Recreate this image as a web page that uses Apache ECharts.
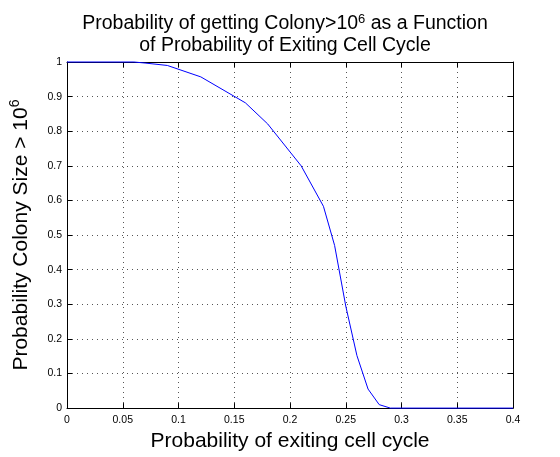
<!DOCTYPE html>
<html><head><meta charset="utf-8">
<script src="https://cdn.jsdelivr.net/npm/echarts@6/dist/echarts.min.js"></script>
<style>html,body{margin:0;padding:0;background:#fff}#c{width:560px;height:457px}</style>
</head><body><div id="c"></div>
<script>
const xValues = [0, 0.06, 0.07, 0.09, 0.12, 0.16, 0.18, 0.21, 0.23, 0.24, 0.25, 0.26, 0.27, 0.28, 0.29, 0.4];
const yValues = [1, 1, 0.997, 0.99, 0.957, 0.882, 0.821, 0.70, 0.583, 0.47, 0.295, 0.152, 0.055, 0.01, 0, 0];
const xTicks = ['0','0.05','0.1','0.15','0.2','0.25','0.3','0.35','0.4'];
const yTicks = ['0','0.1','0.2','0.3','0.4','0.5','0.6','0.7','0.8','0.9','1'];

const FONT = '"Liberation Sans", Arial, sans-serif';
const chart = echarts.init(document.getElementById('c'), null, {renderer: 'canvas'});
const pts = xValues.map((x, i) => [x, yValues[i]]);
const fmtX = v => { const s = +v.toFixed(2); return xTicks.includes(String(s)) ? String(s) : ''; };
const fmtY = v => { const s = +v.toFixed(1); return yTicks.includes(String(s)) ? String(s) : ''; };
const dotted = {show: true, lineStyle: {color: '#555', type: [1, 4], width: 1}};
const supStyle = {fontFamily: FONT, fontSize: 13, verticalAlign: 'top', padding: [0, 0, 12, 0], color: '#000'};
const supStyle2 = {fontFamily: FONT, fontSize: 14, verticalAlign: 'top', padding: [0, 0, 13, 0], color: '#000'};
chart.setOption({
  animation: false,
  backgroundColor: '#fff',
  title: {
    text: 'Probability of getting Colony>10{sup|6} as a Function\nof Probability of Exiting Cell Cycle',
    left: 280, top: 8, textAlign: 'center',
    textStyle: {fontFamily: FONT, fontSize: 19.5, fontWeight: 'normal', color: '#000', lineHeight: 22,
      rich: {sup: supStyle}}
  },
  grid: {left: 64, right: 47, top: 62, bottom: 39},
  xAxis: [{
    type: 'value', min: 0, max: 0.4, interval: 0.05,
    axisLine: {show: true, lineStyle: {color: '#000', width: 1}},
    axisTick: {show: true, inside: true, length: 5, lineStyle: {color: '#000'}},
    axisLabel: {fontFamily: FONT, fontSize: 10.5, color: '#000', margin: 7, formatter: fmtX},
    splitLine: dotted,
    name: 'Probability of exiting cell cycle', nameLocation: 'middle', nameGap: 21,
    nameTextStyle: {fontFamily: FONT, fontSize: 21, color: '#000'}
  }, {
    type: 'value', position: 'top', min: 0, max: 0.4, interval: 0.05,
    axisLine: {show: true, onZero: false, lineStyle: {color: '#000', width: 1}},
    axisTick: {show: true, inside: true, length: 5, lineStyle: {color: '#000'}},
    axisLabel: {show: false}, splitLine: {show: false}
  }],
  yAxis: [{
    type: 'value', min: 0, max: 1, interval: 0.1,
    axisLine: {show: true, lineStyle: {color: '#000', width: 1}},
    axisTick: {show: true, inside: true, length: 5, lineStyle: {color: '#000'}},
    axisLabel: {fontFamily: FONT, fontSize: 10.5, color: '#000', margin: 5, formatter: fmtY},
    splitLine: dotted,
    name: 'Probability Colony Size > 10{sup|6}', nameLocation: 'middle', nameGap: 32,
    nameTextStyle: {fontFamily: FONT, fontSize: 21, color: '#000', rich: {sup: supStyle2}}
  }, {
    type: 'value', position: 'right', min: 0, max: 1, interval: 0.1,
    axisLine: {show: true, onZero: false, lineStyle: {color: '#000', width: 1}},
    axisTick: {show: true, inside: true, length: 5, lineStyle: {color: '#000'}},
    axisLabel: {show: false}, splitLine: {show: false}
  }],
  series: [{
    type: 'line', data: pts, xAxisIndex: 0, yAxisIndex: 0,
    showSymbol: false, symbol: 'none', clip: false,
    lineStyle: {color: '#0000ff', width: 1}
  }]
});
</script></body></html>
